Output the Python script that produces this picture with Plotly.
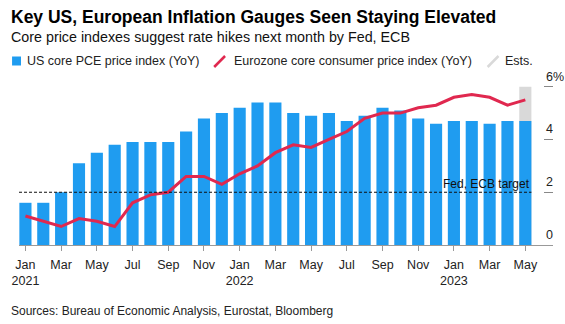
import plotly.graph_objects as go

# ---- data ----
month_labels = ["Jan<br>2021", "Feb", "Mar", "Apr", "May", "Jun", "Jul", "Aug", "Sep", "Oct", "Nov", "Dec",
                "Jan<br>2022", "Feb", "Mar", "Apr", "May", "Jun", "Jul", "Aug", "Sep", "Oct", "Nov", "Dec",
                "Jan<br>2023", "Feb", "Mar", "Apr", "May"]
us_pce = [1.6, 1.6, 2.0, 3.1, 3.5, 3.8, 3.9, 3.9, 3.9, 4.3, 4.8, 5.0,
          5.2, 5.4, 5.4, 5.0, 4.9, 5.0, 4.7, 4.9, 5.2, 5.1, 4.8, 4.6,
          4.7, 4.7, 4.6, 4.7, 4.7]
ez_core = [1.1, 0.9, 0.7, 1.0, 0.9, 0.7, 1.6, 1.9, 2.0, 2.6, 2.6, 2.3,
           2.7, 3.0, 3.5, 3.8, 3.7, 4.0, 4.3, 4.8, 5.0, 5.0, 5.2, 5.3,
           5.6, 5.7, 5.6, 5.3, 5.5]
est_index = [28]
est_top = [6.0]
target = 2.0
y_ticks = [0, 2, 4, 6]
y_tick_text = ["0", "2", "4", "6%"]

x = list(range(len(month_labels)))
tick_idx = x[::2]
tick_text = [month_labels[i] for i in tick_idx]

BLUE = "#1f9cf0"
RED = "#e0284f"
GREY = "#d9d9d9"
FONT = "Liberation Sans"

W, H = 565, 324
L, R, T, B = 14, 12, 80, 79
PW, PH = W - L - R, H - T - B


def pxx(p):
    return (p - L) / PW


def pxy(p):
    return (H - B - p) / PH


fig = go.Figure()
fig.add_trace(go.Bar(x=est_index, y=est_top, width=0.68, marker=dict(color=GREY, line=dict(width=0)),
                     hoverinfo="skip", showlegend=False))
fig.add_trace(go.Bar(x=x, y=us_pce, width=0.68, marker=dict(color=BLUE, line=dict(width=0)),
                     name="US core PCE price index (YoY)", showlegend=False))
fig.add_trace(go.Scatter(x=x, y=ez_core, mode="lines", line=dict(color=RED, width=3),
                         name="Eurozone core consumer price index (YoY)", showlegend=False))

x0, x1 = -0.36, 29.55
fig.add_shape(type="line", xref="x", yref="y", x0=x0, x1=28.34, y0=target, y1=target,
              line=dict(color="#111", width=1.2, dash="3px,2px"))

ann = []
ann.append(dict(text="<b>Key US, European Inflation Gauges Seen Staying Elevated</b>",
                x=pxx(4), y=pxy(17), xanchor="left", yanchor="middle",
                font=dict(size=17.5, color="#000", family=FONT)))
ann.append(dict(text="Core price indexes suggest rate hikes next month by Fed, ECB",
                x=pxx(4), y=pxy(37), xanchor="left", yanchor="middle",
                font=dict(size=14.3, color="#111", family=FONT)))
leg_font = dict(size=12.5, color="#222", family=FONT)
ann.append(dict(text="US core PCE price index (YoY)", x=pxx(20), y=pxy(61), xanchor="left",
                yanchor="middle", font=leg_font))
ann.append(dict(text="Eurozone core consumer price index (YoY)", x=pxx(229), y=pxy(61), xanchor="left",
                yanchor="middle", font=leg_font))
ann.append(dict(text="Ests.", x=pxx(503), y=pxy(61), xanchor="left", yanchor="middle", font=leg_font))
ann.append(dict(text="Sources: Bureau of Economic Analysis, Eurostat, Bloomberg", x=pxx(4), y=pxy(311),
                xanchor="left", yanchor="middle", font=dict(size=12, color="#222", family=FONT)))
ann.append(dict(text="Fed, ECB target", xref="x", yref="y", x=28.34, y=target, xanchor="right",
                yanchor="bottom", showarrow=False, font=dict(size=12, color="#111", family=FONT),
                borderpad=0))
for v, t in zip(y_ticks, y_tick_text):
    ann.append(dict(text=t, xref="paper", yref="y", x=pxx(544), y=v, xanchor="left", yanchor="bottom",
                    showarrow=False, font=dict(size=12.5, color="#222", family=FONT), yshift=1))
for a in ann:
    a.setdefault("xref", "paper")
    a.setdefault("yref", "paper")
    a.setdefault("showarrow", False)
fig.update_layout(annotations=ann)

# legend icons
fig.add_shape(type="rect", xref="paper", yref="paper", x0=pxx(7), x1=pxx(16), y0=pxy(56.5), y1=pxy(65.5),
              fillcolor=BLUE, line=dict(width=0))
fig.add_shape(type="line", xref="paper", yref="paper", x0=pxx(211), x1=pxx(222), y0=pxy(67), y1=pxy(56),
              line=dict(color=RED, width=2.5))
fig.add_shape(type="line", xref="paper", yref="paper", x0=pxx(487), x1=pxx(498), y0=pxy(67), y1=pxy(56),
              line=dict(color=GREY, width=2.5))

fig.update_layout(
    width=W, height=H, margin=dict(l=L, r=R, t=T, b=B, pad=0),
    paper_bgcolor="white", plot_bgcolor="white", barmode="overlay", showlegend=False,
    font=dict(family=FONT, size=12, color="#222"),
    xaxis=dict(range=[x0, x1], tickvals=tick_idx, ticktext=tick_text, ticks="outside", ticklen=5,
               tickcolor="#999", showline=True, linecolor="#999", linewidth=1, showgrid=False,
               zeroline=False, tickfont=dict(size=12.5, color="#222", family=FONT), fixedrange=True,
               ticklabelstandoff=3),
    yaxis=dict(range=[0, 6.255], side="right", tickvals=y_ticks, ticks="inside", ticklen=9,
               tickcolor="#888", showticklabels=False, showgrid=False, zeroline=False, showline=False,
               fixedrange=True),
)

fig.write_html("out.html")
